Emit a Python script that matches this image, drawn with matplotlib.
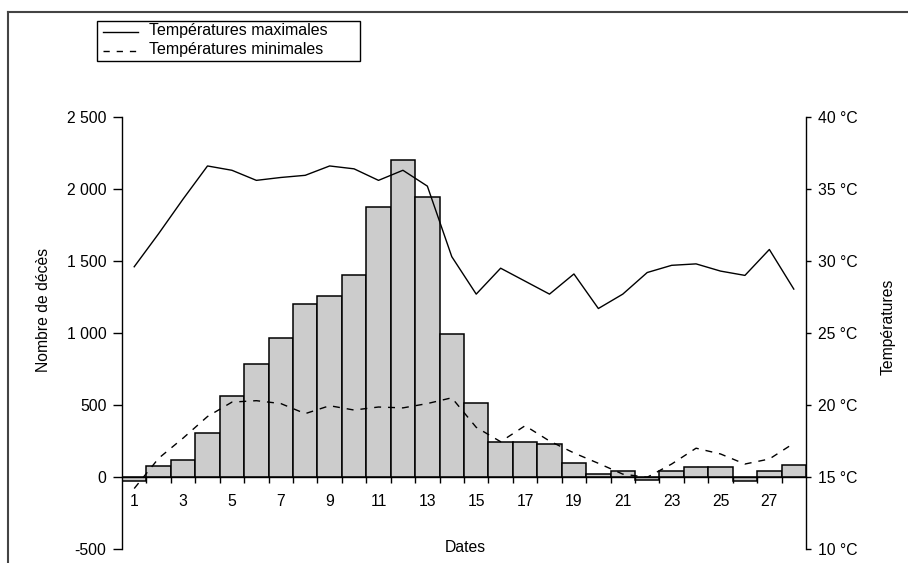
import numpy as np
import matplotlib.pyplot as plt
from matplotlib.lines import Line2D
from matplotlib.patches import Rectangle

plt.rcParams['font.family'] = ['Liberation Sans', 'DejaVu Sans']

# data
days = list(range(1, 29))
deces = [-30, 75, 116, 305, 565, 785, 967, 1199, 1257, 1403, 1875, 2199, 1944, 991,
         512, 245, 245, 227, 99, 19, 40, -20, 42, 69, 69, -25, 42, 81]
tmax = [29.6, 31.9, 34.3, 36.6, 36.3, 35.6, 35.8, 35.95, 36.6, 36.4, 35.6, 36.3, 35.2, 30.3,
        27.7, 29.5, 28.6, 27.7, 29.1, 26.7, 27.7, 29.2, 29.7, 29.8, 29.3, 29.0, 30.8, 28.05]
tmin = [14.2, 16.3, 17.7, 19.2, 20.2, 20.3, 20.1, 19.4, 19.95, 19.65, 19.86, 19.8, 20.1, 20.5,
        18.45, 17.45, 18.56, 17.5, 16.67, 15.95, 15.2, 14.98, 15.9, 17.0, 16.6, 15.9, 16.25, 17.34]

left_ticks = [-500, 0, 500, 1000, 1500, 2000, 2500]
left_labels = ['-500', '0', '500', '1 000', '1 500', '2 000', '2 500']
right_ticks = [10, 15, 20, 25, 30, 35, 40]
right_labels = ['{} °C'.format(t) for t in right_ticks]
x_labels = list(range(1, 29, 2))
legend_labels = ['Températures maximales', 'Températures minimales']

fs = 11.3
fig = plt.figure(figsize=(9.08, 5.63), dpi=100)
W, H = 908, 563
ax = fig.add_axes([122/W, 1-549/H, (806-122)/W, (549-117)/H])

ax.bar(days, deces, width=1.0, color='#cccccc', edgecolor='black', linewidth=1.1, zorder=1)
ax.set_xlim(0.5, 28.5)
ax.set_ylim(-500, 2500)
ax.set_yticks(left_ticks)
ax.set_yticklabels(left_labels, fontsize=fs)
ax.tick_params(axis='y', direction='out', length=6.2, width=1, pad=5)

ax.spines['top'].set_visible(False)
ax.spines['right'].set_visible(False)
ax.spines['bottom'].set_position(('data', 0))
ax.spines['left'].set_linewidth(1)
ax.spines['bottom'].set_linewidth(1)

ax.set_xticks(x_labels)
ax.set_xticklabels([str(d) for d in x_labels], fontsize=fs)
ax.set_xticks(np.arange(1.5, 28.5, 1), minor=True)
ax.tick_params(axis='x', which='major', length=0, pad=12)
ax.tick_params(axis='x', which='minor', direction='out', length=4.3, width=1)

ax2 = ax.twinx()
ax2.set_ylim(10, 40)
ax2.set_yticks(right_ticks)
ax2.set_yticklabels(right_labels, fontsize=fs)
ax2.tick_params(axis='y', direction='out', length=3.6, width=1, pad=5)
for s in ['top', 'bottom', 'left']:
    ax2.spines[s].set_visible(False)
ax2.spines['right'].set_linewidth(1)

ax2.plot(days, tmax, color='black', lw=1.0)
ax2.plot(days, tmin, color='black', lw=1.0, dashes=(5, 5))

fig.text(43/W, 1-310/H, 'Nombre de décès', rotation=90, ha='center', va='center', fontsize=fs)
fig.text(888/W, 1-327/H, 'Températures', rotation=90, ha='center', va='center', fontsize=fs)
fig.text(465/W, 1-547/H, 'Dates', ha='center', va='center', fontsize=fs)

# legend box drawn by hand
fig.add_artist(Rectangle((97/W, 1-61/H), (360-97)/W, (61-21)/H, transform=fig.transFigure,
                         facecolor='white', edgecolor='black', lw=1))
fig.add_artist(Line2D([103/W, 138/W], [1-32/H, 1-32/H], color='black', lw=1))
fig.add_artist(Line2D([103/W, 138/W], [1-50.5/H, 1-50.5/H], color='black', lw=1, dashes=(4.5, 5)))
fig.text(149/W, 1-31/H, legend_labels[0], ha='left', va='center', fontsize=11.5)
fig.text(149/W, 1-49.5/H, legend_labels[1], ha='left', va='center', fontsize=11.5)

# outer frame
fig.add_artist(Line2D([8/W, 1], [1-12/H, 1-12/H], color='#444444', lw=1.5))
fig.add_artist(Line2D([8/W, 8/W], [0, 1-12/H], color='#444444', lw=1.5))

fig.savefig('out.png', dpi=100)
